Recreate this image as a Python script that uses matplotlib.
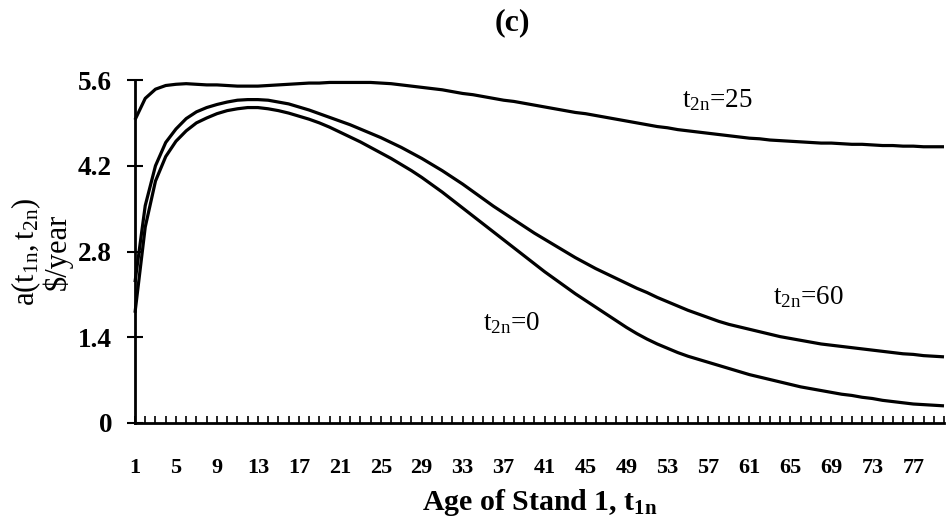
import matplotlib
matplotlib.use("Agg")
import matplotlib.pyplot as plt
import numpy as np

plt.rcParams['font.family'] = ['Liberation Serif', 'DejaVu Serif']
plt.rcParams['mathtext.fontset'] = 'custom'
plt.rcParams['mathtext.rm'] = 'Liberation Serif'
plt.rcParams['mathtext.it'] = 'Liberation Serif'
plt.rcParams['mathtext.bf'] = 'Liberation Serif:bold'

age = list(range(1, 81))

t2n_25 = [4.95, 5.30, 5.45, 5.51, 5.53, 5.54, 5.53, 5.52, 5.52, 5.51,
          5.50, 5.50, 5.50, 5.51, 5.52, 5.53, 5.54, 5.55, 5.55, 5.56,
          5.56, 5.56, 5.56, 5.56, 5.55, 5.54, 5.52, 5.50, 5.48, 5.46,
          5.44, 5.41, 5.38, 5.36, 5.33, 5.30, 5.27, 5.25, 5.22, 5.19,
          5.16, 5.13, 5.10, 5.07, 5.05, 5.02, 4.99, 4.96, 4.93, 4.90,
          4.87, 4.84, 4.82, 4.79, 4.77, 4.75, 4.73, 4.71, 4.69, 4.67,
          4.65, 4.64, 4.62, 4.61, 4.60, 4.59, 4.58, 4.57, 4.57, 4.56,
          4.55, 4.55, 4.54, 4.53, 4.53, 4.52, 4.52, 4.51, 4.51, 4.51]

t2n_60 = [2.30, 3.55, 4.20, 4.58, 4.80, 4.97, 5.08, 5.15, 5.20, 5.24,
          5.27, 5.28, 5.28, 5.27, 5.24, 5.21, 5.16, 5.11, 5.05, 4.99,
          4.93, 4.87, 4.80, 4.73, 4.66, 4.58, 4.50, 4.41, 4.32, 4.22,
          4.12, 4.01, 3.90, 3.78, 3.66, 3.54, 3.43, 3.32, 3.21, 3.10,
          3.00, 2.90, 2.80, 2.70, 2.61, 2.52, 2.44, 2.36, 2.28, 2.20,
          2.13, 2.05, 1.98, 1.91, 1.84, 1.78, 1.72, 1.66, 1.61, 1.57,
          1.53, 1.49, 1.45, 1.41, 1.38, 1.35, 1.32, 1.29, 1.27, 1.25,
          1.23, 1.21, 1.19, 1.17, 1.15, 1.13, 1.12, 1.10, 1.09, 1.08]

t2n_0 = [1.80, 3.20, 3.95, 4.35, 4.60, 4.77, 4.90, 4.98, 5.05, 5.10,
         5.13, 5.15, 5.15, 5.13, 5.10, 5.06, 5.01, 4.96, 4.90, 4.83,
         4.75, 4.67, 4.59, 4.50, 4.41, 4.32, 4.22, 4.12, 4.01, 3.89,
         3.77, 3.64, 3.51, 3.38, 3.25, 3.12, 2.99, 2.86, 2.73, 2.60,
         2.47, 2.35, 2.23, 2.11, 2.00, 1.89, 1.78, 1.67, 1.56, 1.46,
         1.37, 1.29, 1.22, 1.15, 1.09, 1.04, 0.99, 0.94, 0.89, 0.84,
         0.79, 0.75, 0.71, 0.67, 0.63, 0.59, 0.56, 0.53, 0.50, 0.47,
         0.45, 0.42, 0.40, 0.37, 0.35, 0.33, 0.31, 0.30, 0.29, 0.28]

x_tick_labels = list(range(1, 80, 4))
y_ticks = [0, 1.4, 2.8, 4.2, 5.6]
y_tick_labels = ['0', '1.4', '2.8', '4.2', '5.6']

fig = plt.figure(figsize=(9.46, 5.19), dpi=100)
ax = fig.add_axes([135/946, 1-423/519, (944-135)/946, 343/519])

for s in (t2n_25, t2n_60, t2n_0):
    ax.plot(age, s, color='black', lw=2.3, solid_capstyle='butt', clip_on=False)

ax.set_xlim(1, 80)
ax.set_ylim(0, 5.6)
for side in ('top', 'right'):
    ax.spines[side].set_visible(False)
ax.spines['left'].set_linewidth(2)
ax.spines['bottom'].set_linewidth(2)

ax.set_yticks(y_ticks)
ax.set_yticklabels(y_tick_labels, fontsize=19.5, fontweight='bold')
ax.tick_params(axis='y', direction='inout', length=11, width=1.5, pad=11)

ax.set_xticks(x_tick_labels)
ax.set_xticklabels([str(v) for v in x_tick_labels], fontsize=16, fontweight='bold')
ax.set_xticks(age, minor=True)
ax.tick_params(axis='x', which='both', direction='in', length=5, width=1.2, pad=25)

ax.set_xlabel(r'Age of Stand 1, $\mathbf{t}_{\mathbf{1n}}$', fontsize=21.5, fontweight='bold', labelpad=7)
ax.set_ylabel('a$(\\mathrm{t_{1n}},\\mathrm{t_{2n}})$\n$/year', fontsize=22, linespacing=0.95)
ax.yaxis.set_label_coords(-0.077, 0.5)
ax.set_title('(c)', fontsize=23, fontweight='bold', pad=36, x=0.467)

ax.text(54.4, 5.27, r'$\mathrm{t_{2n}}$=25', fontsize=19.5, ha='left', va='center')
ax.text(63.3, 2.06, r'$\mathrm{t_{2n}}$=60', fontsize=19.5, ha='left', va='center')
ax.text(35.0, 1.63, r'$\mathrm{t_{2n}}$=0', fontsize=19.5, ha='left', va='center')

fig.savefig('out.png', dpi=100)
